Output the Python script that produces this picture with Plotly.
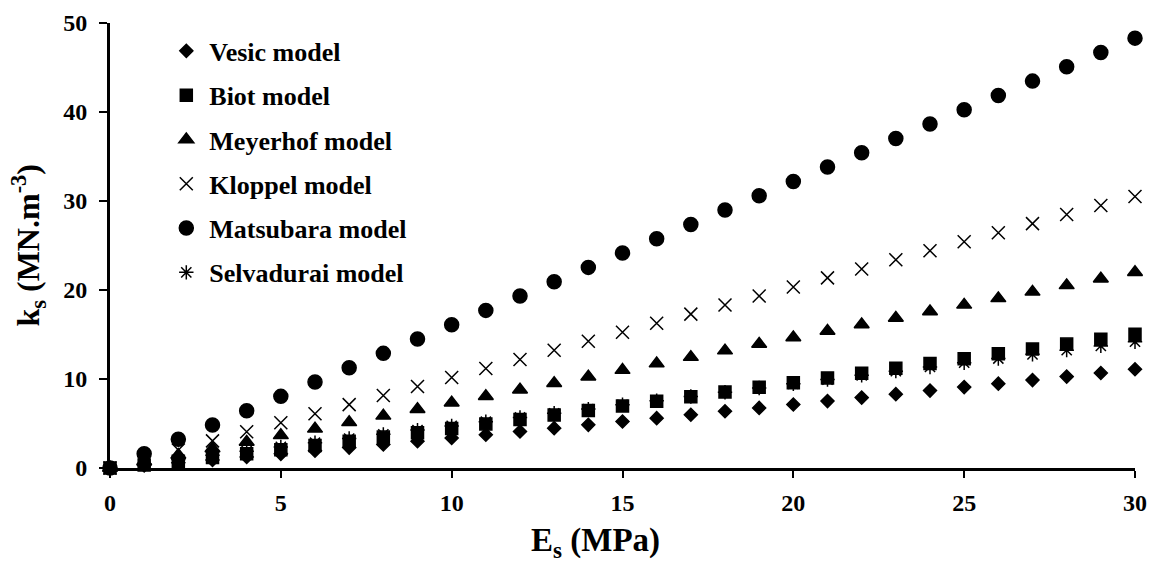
import plotly.graph_objects as go

# E_s (MPa)
es = list(range(0, 31))

# k_s (MN.m-3)
vesic = [0, 0.28, 0.59, 0.91, 1.25, 1.59, 1.94, 2.29, 2.65, 3.01, 3.37,
         3.73, 4.10, 4.48, 4.85, 5.23, 5.60, 5.99, 6.37, 6.75, 7.14,
         7.52, 7.91, 8.30, 8.70, 9.09, 9.48, 9.88, 10.27, 10.67, 11.10]
biot = [0, 0.35, 0.75, 1.17, 1.61, 2.06, 2.53, 3.00, 3.47, 3.96, 4.45,
        4.95, 5.45, 5.95, 6.46, 6.97, 7.49, 8.01, 8.54, 9.06, 9.59,
        10.12, 10.66, 11.20, 11.74, 12.28, 12.83, 13.37, 13.92, 14.48, 15.03]
meyerhof = [0, 0.73, 1.47, 2.20, 2.93, 3.67, 4.40, 5.13, 5.86, 6.60, 7.33,
            8.06, 8.80, 9.53, 10.26, 11.00, 11.73, 12.46, 13.19, 13.93, 14.66,
            15.39, 16.13, 16.86, 17.59, 18.33, 19.06, 19.79, 20.52, 21.26, 21.99]
kloppel = [0, 1.02, 2.03, 3.05, 4.07, 5.09, 6.10, 7.12, 8.14, 9.15, 10.17,
           11.19, 12.20, 13.22, 14.24, 15.26, 16.27, 17.29, 18.31, 19.32, 20.34,
           21.36, 22.37, 23.39, 24.41, 25.43, 26.44, 27.46, 28.48, 29.49, 30.51]
matsubara = [0, 1.61, 3.22, 4.83, 6.44, 8.05, 9.66, 11.27, 12.88, 14.49, 16.10,
             17.71, 19.32, 20.93, 22.54, 24.15, 25.76, 27.37, 28.98, 30.59, 32.20,
             33.81, 35.42, 37.03, 38.64, 40.25, 41.86, 43.47, 45.08, 46.69, 48.30]
selvadurai = [0, 0.47, 0.95, 1.42, 1.89, 2.37, 2.84, 3.31, 3.78, 4.26, 4.73,
              5.20, 5.68, 6.15, 6.62, 7.10, 7.57, 8.04, 8.51, 8.99, 9.46,
              9.93, 10.41, 10.88, 11.35, 11.83, 12.30, 12.77, 13.24, 13.72, 14.19]

series = [
    ('Vesic model', vesic, 'diamond', 10),
    ('Biot model', biot, 'square', 12),
    ('Meyerhof model', meyerhof, 'triangle-up', 13),
    ('Kloppel model', kloppel, 'x-thin-open', 13),
    ('Matsubara model', matsubara, 'circle', 14),
    ('Selvadurai model', selvadurai, 'asterisk-open', 12),
]

font_name = 'Liberation Serif'

fig = go.Figure()
for i, (name, vals, sym, size) in enumerate(series):
    fig.add_trace(go.Scatter(
        x=es, y=vals, mode='markers', name=name, legendgroup=str(i),
        cliponaxis=False,
        marker=dict(symbol=sym, size=size, color='black',
                    line=dict(color='black', width=1.5)),
    ))

axis_common = dict(showgrid=False, zeroline=False, showline=True,
                   linecolor='black', linewidth=3, ticks='outside',
                   tickwidth=2, tickcolor='black', automargin=False,
                   tickfont=dict(size=24, family=font_name, weight='bold'))

fig.update_layout(
    width=1149, height=561,
    paper_bgcolor='white', plot_bgcolor='white',
    margin=dict(l=110, r=14, t=23, b=93),
    font=dict(family=font_name, color='black'),
    showlegend=True,
    legend=dict(x=0.052, y=0.99, xanchor='left', yanchor='top',
                itemwidth=36, tracegroupgap=7.5,
                font=dict(size=26, family=font_name, color='black', weight='bold'),
                bgcolor='rgba(0,0,0,0)'),
    xaxis=dict(range=[0, 30], tickvals=[0, 5, 10, 15, 20, 25, 30],
               ticklen=7, ticklabelstandoff=4, **axis_common),
    yaxis=dict(range=[0, 50], tickvals=[0, 10, 20, 30, 40, 50],
               ticklen=8, ticklabelstandoff=7, **axis_common),
    annotations=[
        dict(text='<b>E<sub>s</sub> (MPa)</b>', xref='paper', yref='paper',
             x=0.4737, y=-0.168, xanchor='center', yanchor='middle',
             showarrow=False, font=dict(size=33, family=font_name)),
        dict(text='<b>k<sub>s</sub> (MN.m<sup>-3</sup>)</b>', xref='paper',
             yref='paper', x=-0.08, y=0.5, xanchor='center', yanchor='middle',
             textangle=-90, showarrow=False,
             font=dict(size=32, family=font_name)),
    ],
)

# drop the browser's default body margin so the figure fills the window
fig.write_html("out.html", config={'displayModeBar': False},
               post_script="document.body.style.margin='0';")
